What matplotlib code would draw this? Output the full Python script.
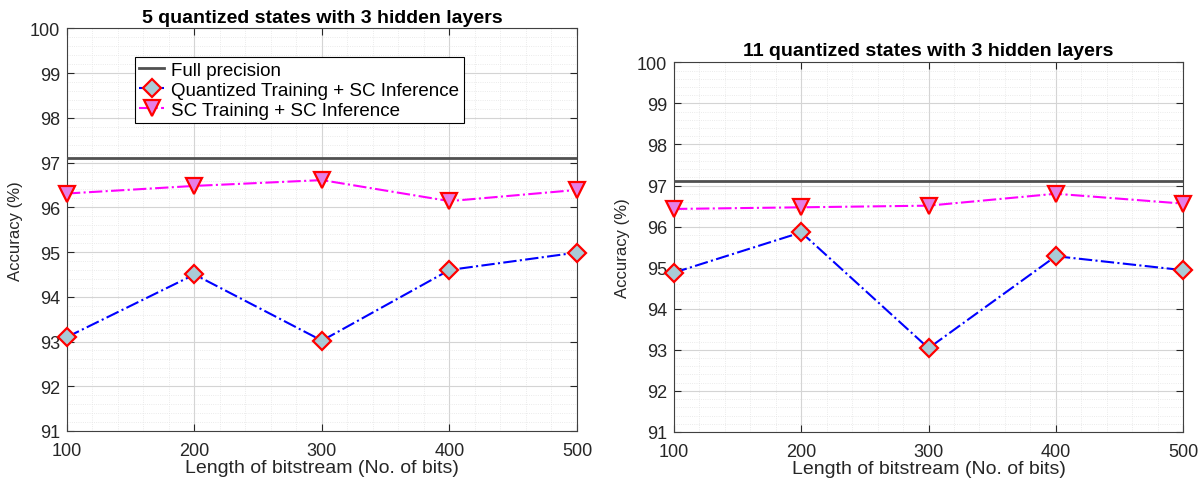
import matplotlib
matplotlib.use("Agg")
import matplotlib.pyplot as plt
from matplotlib.ticker import MultipleLocator

plt.rcParams['font.family'] = ['Liberation Sans', 'DejaVu Sans']

bits = [100, 200, 300, 400, 500]
full_precision = 97.1
left_quant = [93.10, 94.50, 93.02, 94.60, 94.99]
left_sc = [96.31, 96.48, 96.61, 96.14, 96.39]
right_quant = [94.88, 95.86, 93.04, 95.28, 94.94]
right_sc = [96.43, 96.47, 96.51, 96.80, 96.56]
titles = ["5 quantized states with 3 hidden layers",
          "11 quantized states with 3 hidden layers"]
labels = ["Full precision", "Quantized Training + SC Inference",
          "SC Training + SC Inference"]

fig = plt.figure(figsize=(12.04, 4.81), dpi=100)
ax1 = fig.add_axes([0.0556, 0.1019, 0.4236, 0.8368])
ax2 = fig.add_axes([0.5598, 0.0998, 0.4228, 0.7686])

for ax, q, s, t in [(ax1, left_quant, left_sc, titles[0]),
                    (ax2, right_quant, right_sc, titles[1])]:
    ax.plot([bits[0], bits[-1]], [full_precision, full_precision],
            color='#505050', lw=2, label=labels[0], zorder=3)
    ax.plot(bits, q, color='blue', ls='-.', lw=1.5, marker='D',
            markersize=9, markerfacecolor='#a9cbd6', markeredgecolor='red',
            markeredgewidth=1.6, label=labels[1], zorder=4, clip_on=False)
    ax.plot(bits, s, color='magenta', ls='-.', lw=1.5, marker='v',
            markersize=11, markerfacecolor='#e67ee6', markeredgecolor='red',
            markeredgewidth=1.6, label=labels[2], zorder=4, clip_on=False)
    ax.set_xlim(100, 500)
    ax.set_ylim(91, 100)
    ax.xaxis.set_major_locator(MultipleLocator(100))
    ax.xaxis.set_minor_locator(MultipleLocator(20))
    ax.yaxis.set_major_locator(MultipleLocator(1))
    ax.yaxis.set_minor_locator(MultipleLocator(0.2))
    ax.grid(which='major', color='#d4d4d4', lw=0.8)
    ax.grid(which='minor', color='#e4e4e4', lw=0.6, ls=':')
    ax.tick_params(which='both', direction='in', top=True, right=True,
                   labelsize=13, colors='#262626', length=5)
    ax.tick_params(axis='x', pad=8)
    ax.tick_params(axis='y', pad=5)
    ax.tick_params(which='minor', length=0)
    for sp in ax.spines.values():
        sp.set_color('#404040')
        sp.set_linewidth(0.8)
    ax.set_xlabel("Length of bitstream (No. of bits)", fontsize=14,
                  color='#262626', labelpad=0)
    ax.set_ylabel("Accuracy (%)", fontsize=12, color='#262626', labelpad=5)
    ax.set_title(t, fontsize=14, fontweight='bold', pad=5)

leg = ax1.legend(loc='upper left', bbox_to_anchor=(0.133, 0.929),
                 fontsize=13.5, fancybox=False, edgecolor='black',
                 framealpha=1, borderpad=0.25, labelspacing=0.15,
                 handlelength=1.3, handletextpad=0.4, borderaxespad=0)
leg.get_frame().set_linewidth(0.8)

fig.savefig("out.png", dpi=100)
